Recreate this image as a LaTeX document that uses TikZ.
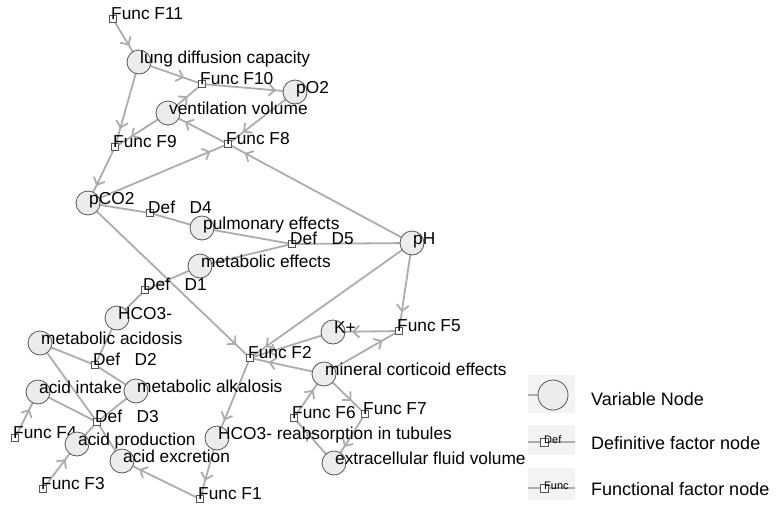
\documentclass[tikz,border=0pt]{standalone}
\usepackage{fontspec}
\setmainfont{Liberation Sans}
\usetikzlibrary{arrows.meta,decorations.markings,backgrounds}
\definecolor{edgegray}{RGB}{172,172,172}
\definecolor{varfill}{RGB}{236,236,236}
\definecolor{rimgray}{RGB}{85,85,85}
\definecolor{keyfill}{RGB}{243,243,243}
\tikzset{
  varnode/.style={circle,draw=rimgray,fill=varfill,line width=0.8pt,minimum size=24pt,inner sep=0pt,
    append after command={(\tikzlastnode.center) node[vtext] {#1}}},
  factnode/.style={rectangle,draw=rimgray,fill=white,line width=0.7pt,minimum size=7pt,inner sep=0pt,
    append after command={(\tikzlastnode.center) node[ftext] {#1}}},
  vtext/.style={anchor=base west,inner sep=0pt,xshift=1pt,yshift=-1pt,draw=none,fill=none},
  ftext/.style={anchor=base west,inner sep=0pt,xshift=-2pt,draw=none,fill=none},
  link/.style={draw=edgegray,line width=1.8pt},
  flow/.style={link,postaction={decorate},decoration={markings,mark=at position -19pt with {\arrow[edgegray]{Straight Barb[length=6pt,width=12pt,line width=1.8pt]}}}},
  keycircle/.style={circle,draw=rimgray,fill=varfill,line width=0.8pt,minimum size=30pt,inner sep=0pt},
  keysquare/.style={rectangle,draw=rimgray,fill=white,line width=0.7pt,minimum size=8pt,inner sep=0pt,
    append after command={(\tikzlastnode.center) node[keysmall] {#1}}},
  keysmall/.style={anchor=base west,inner sep=0pt,xshift=0pt,yshift=-1pt,draw=none,fill=none,font=\fontsize{11}{13}\selectfont},
  keytext/.style={anchor=base west,inner sep=0pt,font=\fontsize{18}{21}\selectfont}
}
\begin{document}
\begin{tikzpicture}[x=1pt,y=-1pt,font=\fontsize{17.3}{20}\selectfont,text=black]
\useasboundingbox (0,0) rectangle (779,504);
% respiratory part
\node[factnode=Func F11] (f11) at (113,19) {};
\node[varnode=lung diffusion capacity] (lung) at (139,62) {};
\node[factnode=Func F10] (f10) at (202,84) {};
\node[varnode=pO2] (po2) at (295,92) {};
\node[varnode=ventilation volume] (vent) at (168,113) {};
\node[factnode=Func F9] (f9) at (115,147) {};
\node[factnode=Func F8] (f8) at (228,144) {};
\node[varnode=pCO2] (pco2) at (88,203) {};
\node[factnode=Def~~~D4] (d4) at (150,213) {};
\node[varnode=pulmonary effects] (pulm) at (202,228) {};
\node[factnode=Def~~~D5] (d5) at (292,244) {};
\node[varnode=pH] (ph) at (412,243) {};
\node[varnode=metabolic effects] (meff) at (200,266) {};
% metabolic part
\node[factnode=Def~~~D1] (d1) at (145,290) {};
\node[varnode=HCO3-] (hco3) at (117,318) {};
\node[varnode=metabolic acidosis] (acidosis) at (40,343) {};
\node[factnode=Def~~~D2] (d2) at (95,365) {};
\node[varnode=acid intake] (intake) at (38,392) {};
\node[varnode=metabolic alkalosis] (alkalosis) at (136,391) {};
\node[factnode=Def~~~D3] (d3) at (97,422) {};
\node[factnode=Func F4] (f4) at (15,438) {};
\node[varnode=acid production] (prod) at (77,444) {};
\node[varnode=acid excretion] (excr) at (122,461) {};
\node[factnode=Func F3] (f3) at (43,489) {};
\node[factnode=Func F1] (f1) at (200,499) {};
% renal part
\node[factnode=Func F2] (f2) at (250,358) {};
\node[varnode=HCO3- reabsorption in tubules] (reab) at (217,438) {};
\node[varnode=K+] (kplus) at (333,332) {};
\node[factnode=Func F5] (f5) at (399,331) {};
\node[varnode=mineral corticoid effects] (mineral) at (324,374) {};
\node[factnode=Func F6] (f6) at (294,418) {};
\node[factnode=Func F7] (f7) at (365,414) {};
\node[varnode=extracellular fluid volume] (ecf) at (334,463) {};
% legend
\coordinate (kv) at (528,395);
\coordinate (kdl) at (528,442);
\coordinate (kdr) at (575,442);
\coordinate (kfl) at (528,488);
\coordinate (kfr) at (575,488);
\node[keycircle] (keyvar) at (553,395) {};
\node[keysquare=Def] (keydef) at (544,442) {};
\node[keysquare=Func] (keyfunc) at (544,488) {};
\node[keytext] (keyvartext) at (591,405) {Variable Node};
\node[keytext] (keydeftext) at (591,449) {Definitive factor node};
\node[keytext] (keyfunctext) at (591,495) {Functional factor node};
\begin{scope}[on background layer]
\fill[keyfill] (528,375) rectangle (575,413);
\fill[keyfill] (528,425) rectangle (575,455);
\fill[keyfill] (528,468) rectangle (575,500);
\draw[link] (kv) -- (keyvar.center);
\draw[link,line width=1.4pt] (kdl) -- (keydef.center) -- (kdr);
\draw[link,line width=1.4pt] (kfl) -- (keyfunc.center) -- (kfr);
% definitive links
\draw[link] (pco2.center) -- (d4.center) -- (pulm.center);
\draw[link] (pulm.center) -- (d5.center) -- (ph.center);
\draw[link] (meff.center) -- (d5.center);
\draw[link] (meff.center) -- (d1.center) -- (hco3.center);
\draw[link] (hco3.center) -- (d2.center);
\draw[link] (acidosis.center) -- (d2.center) -- (alkalosis.center);
\draw[link] (acidosis.center) -- (d3.center);
\draw[link] (intake.center) -- (d3.center);
\draw[link] (alkalosis.center) -- (d3.center);
\draw[link] (prod.center) -- (d3.center) -- (excr.center);
% functional links
\draw[flow] (f11.center) -- (lung.center);
\draw[flow] (lung.center) -- (f10.center);
\draw[flow] (vent.center) -- (f10.center);
\draw[flow] (f10.center) -- (po2.center);
\draw[flow] (lung.center) -- (f9.center);
\draw[flow] (vent.center) -- (f9.center);
\draw[flow] (f9.center) -- (pco2.center);
\draw[flow] (po2.center) -- (f8.center);
\draw[flow] (pco2.center) -- (f8.center);
\draw[flow] (ph.center) -- (f8.center);
\draw[flow] (f8.center) -- (vent.center);
\draw[flow] (pco2.center) -- (f2.center);
\draw[flow] (ph.center) -- (f2.center);
\draw[flow] (kplus.center) -- (f2.center);
\draw[flow] (mineral.center) -- (f2.center);
\draw[flow] (ph.center) -- (f5.center);
\draw[flow] (f5.center) -- (kplus.center);
\draw[flow] (mineral.center) -- (f5.center);
\draw[flow] (mineral.center) -- (f7.center);
\draw[flow] (f7.center) -- (ecf.center);
\draw[flow] (ecf.center) -- (f6.center);
\draw[flow] (f6.center) -- (mineral.center);
\draw[flow] (f2.center) -- (reab.center);
\draw[flow] (reab.center) -- (f1.center);
\draw[flow] (f1.center) -- (excr.center);
\draw[flow] (f3.center) -- (prod.center);
\draw[flow] (f4.center) -- (intake.center);
\end{scope}
\end{tikzpicture}
\end{document}
